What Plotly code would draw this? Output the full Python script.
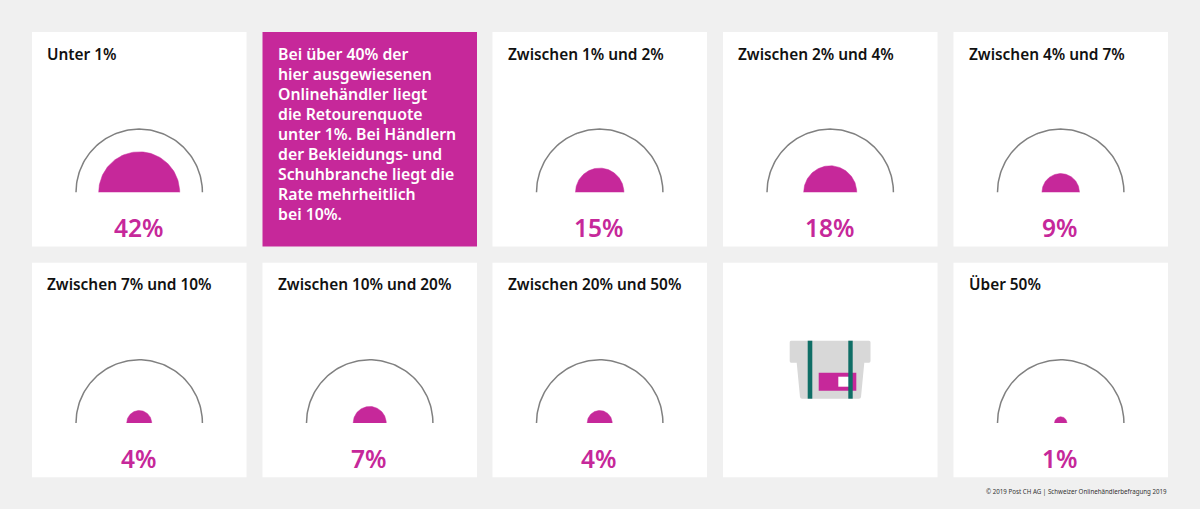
import numpy as np
import plotly.graph_objects as go

categories = ["Unter 1%", "Zwischen 1% und 2%", "Zwischen 2% und 4%", "Zwischen 4% und 7%",
              "Zwischen 7% und 10%", "Zwischen 10% und 20%", "Zwischen 20% und 50%", "Über 50%"]
values = [42, 15, 18, 9, 4, 7, 4, 1]
rows = [0, 0, 0, 0, 1, 1, 1, 1]
cols = [0, 2, 3, 4, 0, 1, 2, 4]
note_lines = ["Bei über 40% der", "hier ausgewiesenen", "Onlinehändler liegt", "die Retourenquote",
              "unter 1%. Bei Händlern", "der Bekleidungs- und", "Schuhbranche liegt die",
              "Rate mehrheitlich", "bei 10%."]
footer = "© 2019 Post CH AG | Schweizer Onlinehändlerbefragung 2019"

W, H = 1200, 509
BG, WHITE, MAG, GREY, GREEN, BOX = "#f0f0f0", "#ffffff", "#c6289a", "#808080", "#0f6e66", "#d8d8d8"
FONT = "Noto Sans"
PX = [32, 262.5, 492.5, 723, 953.5]
PY = [32, 262.7]
PW, PH = 214.5, 214.5
BASE = 160.3      # baseline offset inside a panel
CX = 107.2
ARC_R = 63.2
K = 6.25          # radius per sqrt(percent): area-proportional semicircles

fig = go.Figure()
shapes, ann = [], []

def rect(x0, y0, x1, y1, color):
    shapes.append(dict(type="rect", xref="x", yref="y", x0=x0, y0=y0, x1=x1, y1=y1,
                       fillcolor=color, line_width=0, layer="below"))

for r in range(2):
    for c in range(5):
        rect(PX[c], PY[r], PX[c] + PW, PY[r] + PH, MAG if (r, c) == (0, 1) else WHITE)

t = np.linspace(np.pi, 0, 91)
for cat, v, r, c in zip(categories, values, rows, cols):
    cx, by = PX[c] + CX, PY[r] + BASE
    fig.add_trace(go.Scatter(x=cx + ARC_R * np.cos(t), y=by - ARC_R * np.sin(t), mode="lines",
                             line=dict(color=GREY, width=1.5), hoverinfo="skip", showlegend=False))
    rad = K * np.sqrt(v)
    fig.add_trace(go.Scatter(x=cx + rad * np.cos(t), y=by - rad * np.sin(t), mode="lines",
                             fill="toself", fillcolor=MAG, line=dict(color=MAG, width=0.5),
                             name=cat, showlegend=False))
    ann.append(dict(x=PX[c] + 13, y=PY[r] + 22, text=cat, xanchor="left", yanchor="middle", showarrow=False,
                    font=dict(family=FONT, size=15.4, color="#111111", weight=600)))
    ann.append(dict(x=PX[c] + CX - 1, y=PY[r] + 195.5, text=f"{v}%", xanchor="center", yanchor="middle", showarrow=False,
                    font=dict(family=FONT, size=24.5, color=MAG, weight=600)))

for i, line in enumerate(note_lines):
    ann.append(dict(x=PX[1] + 13, y=PY[0] + 22 + i * 20, text=line, xanchor="left", yanchor="middle",
                    showarrow=False, font=dict(family=FONT, size=15.8, color="#ffffff", weight=600)))

ann.append(dict(x=PX[4] + PW + 1, y=491.3, text=footer, xanchor="right", yanchor="middle", showarrow=False,
                font=dict(family=FONT, size=6.2, color="#333333")))

# parcel icon
shapes.append(dict(type="path", xref="x", yref="y", layer="below", fillcolor=BOX, line_width=0,
                   path="M791,340.7 L869,340.7 Q870.5,340.7 870.5,342.2 L870.5,361 Q870.5,362.7 869,362.7 "
                        "L864.3,362.7 L861,397 Q860.8,398.7 859,398.7 L802,398.7 Q800.3,398.7 800,397 "
                        "L796.7,362.7 L791,362.7 Q789.7,362.7 789.7,361 L789.7,342.2 Q789.7,340.7 791,340.7 Z"))
rect(818.7, 372.7, 856.3, 390.7, MAG)
rect(838.3, 376.7, 849, 386.7, WHITE)
rect(807.7, 340.7, 812.3, 398.7, GREEN)
rect(848.3, 340.7, 852.7, 398.7, GREEN)

fig.update_layout(width=W, height=H, margin=dict(l=0, r=0, t=0, b=0), paper_bgcolor=BG, plot_bgcolor=BG,
                  shapes=shapes, annotations=ann, showlegend=False,
                  xaxis=dict(range=[0, W], visible=False, fixedrange=True),
                  yaxis=dict(range=[H, 0], visible=False, fixedrange=True))
fig.write_html("out.html", config=dict(displayModeBar=False),
               post_script="document.body.style.margin='0';document.body.style.overflow='hidden';")
